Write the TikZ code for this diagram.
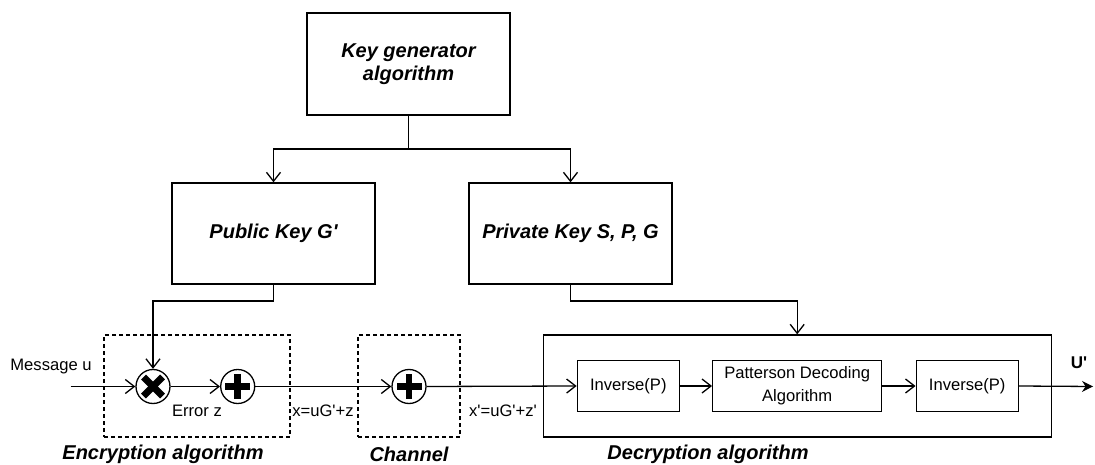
\documentclass[tikz,border=0pt]{standalone}
\usepackage{fontspec}
\setmainfont{Liberation Sans}
\usetikzlibrary{arrows.meta}
\newcommand{\sq}{\textquotesingle}
\begin{document}
\begin{tikzpicture}[x=1pt,y=-1pt,
  lw/.style={line width=1.3pt},
  box/.style={draw,lw,rectangle,inner sep=0pt,align=center},
  dbox/.style={draw,line width=1.2pt,dash pattern=on 4pt off 3pt,rectangle,inner sep=0pt},
  title/.style={font=\fontsize{20}{23}\selectfont\bfseries\itshape,align=center},
  lbl/.style={font=\fontsize{16.6}{19}\selectfont,align=center,inner sep=0pt},
  op/.style={draw,lw,circle,minimum size=34pt,inner sep=0pt},
  arr/.style={lw,-{Straight Barb[length=9pt,width=14pt,line width=1.3pt]}},
  conn/.style={lw}
]
\useasboundingbox (0,0) rectangle (1095,465);

% top boxes
\node[box,minimum width=203pt,minimum height=102pt,title] (keygen) at (408.5,64) {Key generator\\algorithm};
\node[box,minimum width=203pt,minimum height=101pt,title] (pub) at (273.5,233.5) {Public Key G\sq};
\node[box,minimum width=203pt,minimum height=101pt,title] (priv) at (570.5,233.5) {Private Key S, P, G};

% dashed boxes
\node[dbox,minimum width=186pt,minimum height=102pt] (enc) at (197,386) {};
\node[dbox,minimum width=102pt,minimum height=102pt] (chan) at (409,386) {};

% decryption box
\node[box,minimum width=508pt,minimum height=102pt] (dec) at (797.2,386) {};
\node[box,lbl,minimum width=102pt,minimum height=50.5pt] (inv1) at (628.3,386) {Inverse(P)};
\node[box,lbl,minimum width=169pt,minimum height=50.5pt,font=\fontsize{16.6}{23}\selectfont] (pat) at (797.2,386) {Patterson Decoding\\Algorithm};
\node[box,lbl,minimum width=102pt,minimum height=50.5pt] (inv3) at (967.2,386) {Inverse(P)};

% operators
\node[op] (mul) at (153,386.5) {};
\node[op] (add1) at (237.7,386.5) {};
\node[op] (add2) at (409,386.5) {};
\foreach \n in {add1,add2}{
  \fill ([xshift=-12.5pt,yshift=-3.4pt]\n.center) rectangle ([xshift=12.5pt,yshift=3.4pt]\n.center);
  \fill ([xshift=-3.4pt,yshift=-12.5pt]\n.center) rectangle ([xshift=3.4pt,yshift=12.5pt]\n.center);
}
\draw[line width=7pt] ([xshift=-9.5pt,yshift=-9.5pt]mul.center) -- ([xshift=9.5pt,yshift=9.5pt]mul.center);
\draw[line width=7pt] ([xshift=-9.5pt,yshift=9.5pt]mul.center) -- ([xshift=9.5pt,yshift=-9.5pt]mul.center);

% coordinates
\coordinate (msg) at (70.7,386.5);
\coordinate (out) at (1093,386.5);

% connectors
\draw[arr] (keygen.south) -- (408.5,149) -| (pub.north);
\draw[arr] (keygen.south) -- (408.5,149) -| (priv.north);
\draw[arr] (pub.south) -- (273.5,301) -| (mul.north);
\draw[arr] (priv.south) -- (570.5,301) -| (dec.north);
\draw[arr] (msg) -- (mul.west);
\draw[arr] (mul.east) -- (add1.west);
\draw[arr] (add1.east) -- (add2.west);
\draw[arr] (add2.east) -- (inv1.west);
\draw[arr] (inv1.east) -- (pat.west);
\draw[arr] (pat.east) -- (inv3.west);
\draw[lw,-{Stealth[length=11pt,width=11pt]}] (inv3.east) -- (out);

% labels
\node[lbl] (lmsg) at (51,367) {Message u};
\node[lbl] (lerr) at (197,411) {Error z};
\node[lbl] (lx) at (323,411) {x=uG\sq+z};
\node[lbl] (lx2) at (503,411) {x\sq=uG\sq+z\sq};
\node[lbl,font=\fontsize{17}{19}\selectfont\bfseries] (lu) at (1079,363) {U\sq};
\node[title] (tenc) at (163,454) {Encryption algorithm};
\node[title] (tchan) at (409,454) {Channel};
\node[title] (tdec) at (708,454) {Decryption algorithm};
\end{tikzpicture}
\end{document}
